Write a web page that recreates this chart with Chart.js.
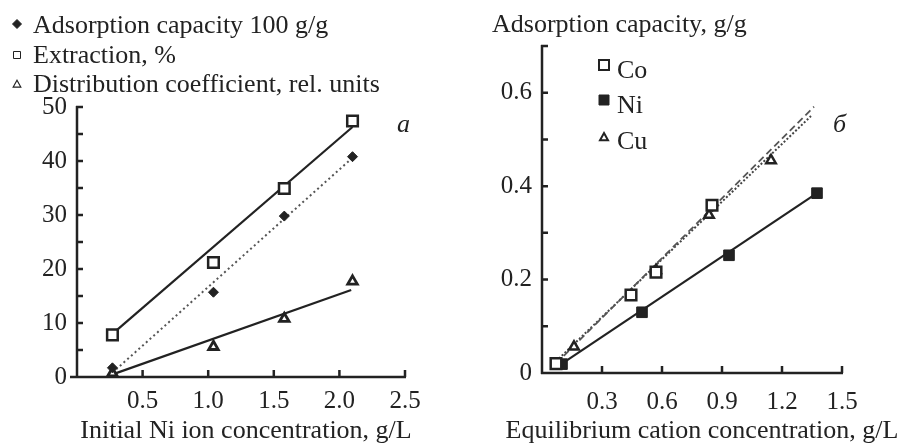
<!DOCTYPE html>
<html>
<head>
<meta charset="utf-8">
<script src="https://cdn.jsdelivr.net/npm/chart.js@4.4.0/dist/chart.umd.min.js"></script>
<style>
  body { margin: 0; background: #fff; }
  #wrap { position: relative; width: 901px; height: 445px; }
  canvas { position: absolute; top: 0; }
</style>
</head>
<body>
<div id="wrap">
  <canvas id="chartA" width="450" height="445" style="left:0"></canvas>
  <canvas id="chartB" width="451" height="445" style="left:450px"></canvas>
</div>
<script>
// --- panel a: initial Ni ion concentration, g/L
const initConc = [0.27, 1.04, 1.58, 2.1];
const adsorption100 = [1.7, 15.7, 29.8, 40.8];
const extraction = [7.8, 21.2, 34.9, 47.4];
const distribCoef = [0.7, 5.6, 10.8, 17.7];
// fitted lines, start and end
const fitXA = [0.27, 2.1];
const adsorptionFit = [0.8, 40.6];
const extractionFit = [8.0, 46.3];
const distribFitX = [0.25, 2.09];
const distribFit = [0.3, 16.1];

// --- panel b: equilibrium cation concentration, g/L
const coX = [0.07, 0.445, 0.57, 0.85];
const coY = [0.02, 0.167, 0.216, 0.359];
const niX = [0.1, 0.5, 0.935, 1.375];
const niY = [0.019, 0.13, 0.252, 0.385];
const cuX = [0.16, 0.57, 0.835, 1.145];
const cuY = [0.056, 0.22, 0.338, 0.455];
const coFitX = [0.07, 1.36];
const coFitY = [0.02, 0.57];
const cuFitX = [0.07, 1.345];
const cuFitY = [0.025, 0.55];
const niFitX = [0.1, 1.375];
const niFitY = [0.02, 0.385];

const ink = '#222';
const serif = '"Liberation Serif", "Times New Roman", serif';
const pts = (xs, ys) => xs.map((x, i) => ({ x: x, y: ys[i] }));

// small marker shapes for the hand-placed legends
function marker(ctx, shape, x, y, r, filled, lw) {
  ctx.save();
  ctx.beginPath();
  if (shape === 'diamond') {
    ctx.moveTo(x - r, y); ctx.lineTo(x, y - r); ctx.lineTo(x + r, y); ctx.lineTo(x, y + r);
  } else if (shape === 'square') {
    ctx.rect(x - r, y - r, 2 * r, 2 * r);
  } else {
    ctx.moveTo(x, y - r); ctx.lineTo(x + r, y + r * 0.8); ctx.lineTo(x - r, y + r * 0.8);
  }
  ctx.closePath();
  ctx.fillStyle = filled ? ink : '#fff';
  ctx.fill();
  ctx.lineWidth = lw;
  ctx.strokeStyle = ink;
  ctx.stroke();
  ctx.restore();
}

// axis lines with inward tick marks
function frame(xLeftExtra) {
  return {
    id: 'frame',
    beforeDatasetsDraw(chart) {
      const { ctx, chartArea: a, scales: { x, y } } = chart;
      ctx.save();
      ctx.strokeStyle = ink;
      ctx.lineWidth = 2.5;
      ctx.beginPath();
      ctx.moveTo(a.left - xLeftExtra, a.bottom); ctx.lineTo(a.right + 1, a.bottom);
      ctx.moveTo(a.left, a.bottom + 1); ctx.lineTo(a.left, a.top - 1);
      y.ticks.forEach(t => {
        const py = y.getPixelForValue(t.value);
        ctx.moveTo(a.left - 1, py); ctx.lineTo(a.left + 6, py);
      });
      x.ticks.forEach(t => {
        if (t.value === 0) return;
        const px = x.getPixelForValue(t.value);
        ctx.moveTo(px, a.bottom); ctx.lineTo(px, a.bottom - 7);
      });
      ctx.stroke();
      ctx.restore();
    }
  };
}

function text(ctx, s, x, y, size, align, italic) {
  ctx.font = (italic ? 'italic ' : '') + size + 'px ' + serif;
  ctx.fillStyle = ink;
  ctx.textAlign = align || 'left';
  ctx.textBaseline = 'alphabetic';
  ctx.fillText(s, x, y);
}

const labelsA = {
  id: 'labelsA',
  afterDraw(chart) {
    const ctx = chart.ctx;
    marker(ctx, 'diamond', 17, 24, 4.5, true, 1);
    marker(ctx, 'square', 17, 55, 3.5, false, 1);
    marker(ctx, 'triangle', 17, 84, 3.8, false, 1.2);
    text(ctx, 'Adsorption capacity 100 g/g', 33, 33, 26);
    text(ctx, 'Extraction, %', 33, 63, 26);
    text(ctx, 'Distribution coefficient, rel. units', 33, 92, 26);
    text(ctx, 'a', 397, 132, 26, 'left', true);
    text(ctx, 'Initial Ni ion concentration, g/L', 246, 438, 26, 'center');
  }
};

const labelsB = {
  id: 'labelsB',
  afterDraw(chart) {
    const ctx = chart.ctx;
    marker(ctx, 'square', 154, 65, 5, false, 2);
    marker(ctx, 'square', 154, 100, 5, true, 1);
    marker(ctx, 'triangle', 154, 137, 4, false, 2);
    text(ctx, 'Co', 167, 78, 26);
    text(ctx, 'Ni', 167, 113, 26);
    text(ctx, 'Cu', 167, 149, 26);
    text(ctx, 'Adsorption capacity, g/g', 42, 32, 26);
    text(ctx, 'б', 383, 132, 26, 'left', true);
    text(ctx, 'Equilibrium cation concentration, g/L', 252, 438, 26, 'center');
  }
};

const tickFont = { family: serif, size: 25 };

new Chart(document.getElementById('chartA'), {
  type: 'scatter',
  data: {
    datasets: [
      { data: pts(initConc, adsorption100), pointStyle: 'rectRot', pointRadius: 5,
        backgroundColor: ink, borderColor: ink, borderWidth: 1, order: 0 },
      { data: pts(initConc, extraction), pointStyle: 'rect', pointRadius: 7.5,
        backgroundColor: '#fff', borderColor: ink, borderWidth: 2.5, order: 0 },
      { data: pts(initConc, distribCoef), pointStyle: 'triangle', pointRadius: 5.5,
        backgroundColor: '#fff', borderColor: ink, borderWidth: 2.8, order: 0 },
      { data: pts(fitXA, adsorptionFit), showLine: true, pointRadius: 0,
        borderColor: '#555', borderWidth: 2, borderDash: [2, 3], order: 1 },
      { data: pts(fitXA, extractionFit), showLine: true, pointRadius: 0,
        borderColor: ink, borderWidth: 2.2, order: 1 },
      { data: pts(distribFitX, distribFit), showLine: true, pointRadius: 0,
        borderColor: ink, borderWidth: 2.2, order: 1 }
    ]
  },
  options: {
    responsive: false,
    animation: false,
    events: [],
    layout: { padding: { top: 107, right: 45, left: 0, bottom: 0 } },
    plugins: { legend: { display: false }, tooltip: { enabled: false } },
    scales: {
      x: {
        type: 'linear', min: 0, max: 2.5,
        grid: { display: false, drawTicks: false },
        border: { display: false },
        ticks: { stepSize: 0.5, padding: 9, color: ink, font: tickFont, maxRotation: 0, autoSkip: false,
          callback: v => v === 0 ? '' : v.toFixed(1) },
        afterFit: s => { s.height = 68; }
      },
      y: {
        min: 0, max: 50,
        grid: { display: false, drawTicks: false },
        border: { display: false },
        ticks: { stepSize: 5, padding: 10, color: ink, font: tickFont, autoSkip: false,
          callback: v => v % 10 === 0 ? String(v) : '' },
        afterFit: s => { s.width = 77; }
      }
    }
  },
  plugins: [frame(7), labelsA]
});

new Chart(document.getElementById('chartB'), {
  type: 'scatter',
  data: {
    datasets: [
      { data: pts(coX, coY), pointStyle: 'rect', pointRadius: 7.5,
        backgroundColor: '#fff', borderColor: ink, borderWidth: 2.5, order: 0 },
      { data: pts(niX, niY), pointStyle: 'rect', pointRadius: 7.5,
        backgroundColor: ink, borderColor: ink, borderWidth: 1, order: 0 },
      { data: pts(cuX, cuY), pointStyle: 'triangle', pointRadius: 5.5,
        backgroundColor: '#fff', borderColor: ink, borderWidth: 2.5, order: 0 },
      { data: pts(coFitX, coFitY), showLine: true, pointRadius: 0,
        borderColor: '#555', borderWidth: 1.8, borderDash: [7, 4], order: 1 },
      { data: pts(cuFitX, cuFitY), showLine: true, pointRadius: 0,
        borderColor: '#444', borderWidth: 2, borderDash: [2, 2], order: 1 },
      { data: pts(niFitX, niFitY), showLine: true, pointRadius: 0,
        borderColor: ink, borderWidth: 2.2, order: 1 }
    ]
  },
  options: {
    responsive: false,
    animation: false,
    events: [],
    layout: { padding: { top: 46, right: 59, left: 0, bottom: 0 } },
    plugins: { legend: { display: false }, tooltip: { enabled: false } },
    scales: {
      x: {
        type: 'linear', min: 0, max: 1.5,
        grid: { display: false, drawTicks: false },
        border: { display: false },
        ticks: { stepSize: 0.3, padding: 14, color: ink, font: tickFont, maxRotation: 0, autoSkip: false,
          callback: v => v === 0 ? '' : v.toFixed(1) },
        afterFit: s => { s.height = 72; }
      },
      y: {
        min: 0, max: 0.7,
        grid: { display: false, drawTicks: false },
        border: { display: false },
        ticks: { stepSize: 0.1, padding: 10, color: ink, font: tickFont, autoSkip: false,
          callback: v => {
            const k = Math.round(v * 10);
            if (k === 0) return '0';
            return k % 2 === 0 ? (k / 10).toFixed(1) : '';
          } },
        afterFit: s => { s.width = 92; }
      }
    }
  },
  plugins: [frame(0), labelsB]
});
</script>
</body>
</html>
